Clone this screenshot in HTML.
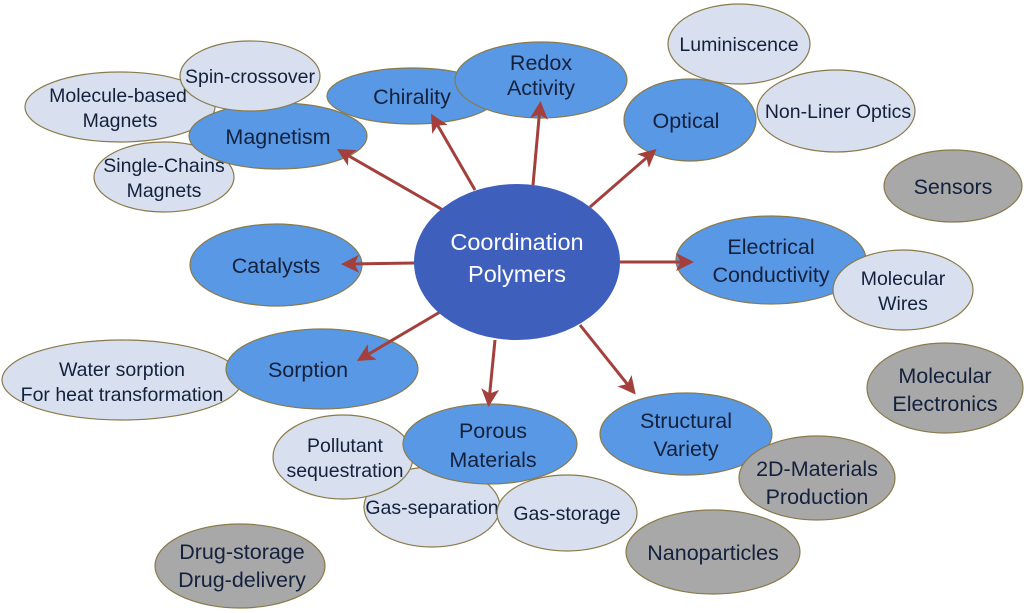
<!DOCTYPE html>
<html><head><meta charset="utf-8"><style>
html,body{margin:0;padding:0;background:#fff;}
svg{display:block}
text{font-family:"Liberation Sans",sans-serif;text-anchor:middle;fill:#14213d;}
.b{fill:#5898e4;stroke:#8a7a4a;stroke-width:1.2}
.l{fill:#d8e0ef;stroke:#8a7a4a;stroke-width:1.2}
.g{fill:#a8a8a8;stroke:#8a7a4a;stroke-width:1.2}
.a{stroke:#a3403c;stroke-width:3;fill:none;marker-end:url(#ah)}
.s{font-size:19.5px}
.m{font-size:21.5px}
</style></head><body>
<svg width="1024" height="613" viewBox="0 0 1024 613">
<defs><marker id="ah" markerWidth="6" markerHeight="6" refX="4" refY="3" orient="auto" markerUnits="strokeWidth"><path d="M0,0 L6,3 L0,6 L1.5,3 z" fill="#a3403c"/></marker></defs>

<ellipse class="l" cx="120" cy="107" rx="95" ry="35"/>
<text x="118" y="102" class="s">Molecule-based</text><text x="120" y="127" class="s">Magnets</text>
<ellipse class="l" cx="164" cy="177" rx="70" ry="35"/>
<text x="164" y="172" class="s">Single-Chains</text><text x="164" y="197" class="s">Magnets</text>
<ellipse class="b" cx="278" cy="136" rx="89" ry="33"/>
<text x="278" y="144" class="m">Magnetism</text>
<ellipse class="l" cx="250" cy="76" rx="70" ry="35"/>
<text x="250" y="83" class="s">Spin-crossover</text>

<ellipse class="b" cx="412" cy="96" rx="85" ry="28"/>
<text x="412" y="104" class="m">Chirality</text>
<ellipse class="b" cx="541" cy="80" rx="86" ry="38"/>
<text x="541" y="70" class="m">Redox</text><text x="541" y="95" class="m">Activity</text>

<ellipse class="l" cx="739" cy="44" rx="71" ry="40"/>
<text x="739" y="51" class="s">Luminiscence</text>
<ellipse class="b" cx="690" cy="120" rx="66" ry="41"/>
<text x="686" y="128" class="m">Optical</text>
<ellipse class="l" cx="836" cy="111" rx="79" ry="41"/>
<text x="838" y="118" class="s">Non-Liner Optics</text>

<ellipse class="g" cx="953" cy="186" rx="69" ry="36"/>
<text x="953" y="194" class="m">Sensors</text>

<ellipse class="b" cx="771" cy="260" rx="95" ry="44"/>
<text x="771" y="254" class="m">Electrical</text><text x="771" y="282" class="m">Conductivity</text>
<ellipse class="l" cx="903" cy="290" rx="70" ry="40"/>
<text x="903" y="285" class="s">Molecular</text><text x="903" y="310" class="s">Wires</text>

<ellipse class="g" cx="945" cy="388" rx="78" ry="45"/>
<text x="945" y="383" class="m">Molecular</text><text x="945" y="411" class="m">Electronics</text>

<ellipse class="b" cx="276" cy="265" rx="86" ry="41"/>
<text x="276" y="273" class="m">Catalysts</text>

<ellipse class="l" cx="122" cy="380" rx="120" ry="40"/>
<text x="122" y="376" class="s">Water sorption</text><text x="122" y="401" class="s">For heat transformation</text>
<ellipse class="b" cx="322" cy="369" rx="96" ry="40"/>
<text x="308" y="377" class="m">Sorption</text>

<ellipse class="l" cx="432" cy="507" rx="68" ry="40"/>
<text x="432" y="514" class="s">Gas-separation</text>
<ellipse class="l" cx="343" cy="457" rx="70" ry="42"/>
<text x="345" y="452" class="s">Pollutant</text><text x="345" y="477" class="s">sequestration</text>
<ellipse class="b" cx="490" cy="444" rx="87" ry="40"/>
<text x="493" y="438" class="m">Porous</text><text x="493" y="467" class="m">Materials</text>
<ellipse class="l" cx="567" cy="513" rx="70" ry="38"/>
<text x="567" y="520" class="s">Gas-storage</text>

<ellipse class="g" cx="240" cy="566" rx="85" ry="42"/>
<text x="242" y="559" class="m">Drug-storage</text><text x="242" y="587" class="m">Drug-delivery</text>

<ellipse class="b" cx="686" cy="434" rx="86" ry="41"/>
<text x="686" y="428" class="m">Structural</text><text x="686" y="456" class="m">Variety</text>
<ellipse class="g" cx="817" cy="478" rx="78" ry="42"/>
<text x="817" y="476" class="m">2D-Materials</text><text x="817" y="504" class="m">Production</text>
<ellipse class="g" cx="713" cy="552" rx="87" ry="42"/>
<text x="713" y="560" class="m">Nanoparticles</text>

<line class="a" x1="443" y1="210" x2="342" y2="152"/>
<line class="a" x1="475" y1="190" x2="434" y2="119"/>
<line class="a" x1="533" y1="185" x2="540" y2="107"/>
<line class="a" x1="590" y1="207" x2="652" y2="153"/>
<line class="a" x1="620" y1="262" x2="688" y2="262"/>
<line class="a" x1="580" y1="325" x2="632" y2="390"/>
<line class="a" x1="495" y1="340" x2="489" y2="401"/>
<line class="a" x1="440" y1="312" x2="362" y2="358"/>
<line class="a" x1="415" y1="263" x2="347" y2="264"/>

<ellipse cx="517" cy="262" rx="103" ry="78" fill="#3e5fbb"/>
<text x="517" y="250" font-size="23.5" style="fill:#fff">Coordination</text>
<text x="517" y="282" font-size="23.5" style="fill:#fff">Polymers</text>
</svg>
</body></html>
